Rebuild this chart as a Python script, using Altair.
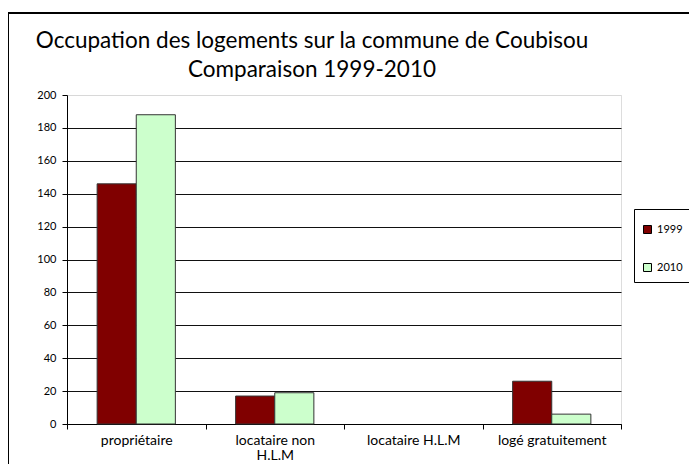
import altair as alt
import pandas as pd

categories = ["propriétaire", "locataire non H.L.M", "locataire H.L.M", "logé gratuitement"]
years = ["1999", "2010"]
values_1999 = [146, 17, 0, 26]
values_2010 = [188, 19, 0, 6]
colors = ["#800000", "#CCFFCC"]
y_ticks = [0, 20, 40, 60, 80, 100, 120, 140, 160, 180, 200]
title_lines = ["Occupation des logements sur la commune de Coubisou", "Comparaison 1999-2010"]

rows = []
for c, a, b in zip(categories, values_1999, values_2010):
    rows.append({"cat": c, "year": "1999", "value": a})
    rows.append({"cat": c, "year": "2010", "value": b})
df = pd.DataFrame(rows)

FONT = "Lato"

bars = alt.Chart(df).mark_bar(stroke="#333333", strokeWidth=1).encode(
    x=alt.X("cat:N", sort=categories, title=None,
            scale=alt.Scale(paddingInner=0, paddingOuter=0),
            axis=alt.Axis(labelAngle=0, tickBand="extent", tickSize=5, tickColor="#000000",
                          domainColor="#000000", labelFontSize=14, labelPadding=4,
                          labelColor="#000000", labelFont=FONT, labelLineHeight=15.5,
                          labelExpr="datum.label == 'locataire non H.L.M' ? ['locataire non', 'H.L.M'] : datum.label")),
    xOffset=alt.XOffset("year:N", scale=alt.Scale(paddingInner=0, paddingOuter=0.77)),
    y=alt.Y("value:Q", title=None,
            scale=alt.Scale(domain=[0, 200], nice=False),
            axis=alt.Axis(values=y_ticks, tickSize=5, tickColor="#000000", domainColor="#000000",
                          gridColor={"condition": {"test": "datum.value === 200", "value": "#D8D8D8"},
                                     "value": "#111111"},
                          gridWidth=1, labelFontSize=11, labelColor="#000000",
                          labelFont=FONT, labelPadding=6)),
    fill=alt.Fill("year:N", scale=alt.Scale(domain=years, range=colors),
                  legend=alt.Legend(title=" ", titleFontSize=5, titlePadding=2,
                                    orient="none", legendX=567, legendY=114,
                                    strokeColor="#000000", fillColor="#ffffff", padding=8,
                                    symbolType="square", symbolSize=64, symbolStrokeColor="#000000",
                                    symbolStrokeWidth=1, labelFontSize=11, labelFont=FONT,
                                    labelOffset=4, rowPadding=25, labelColor="#000000")),
    strokeOpacity=alt.condition("datum.value > 0", alt.value(1), alt.value(0)),
)

frame_top = alt.Chart(df).mark_rule(color="#000000", strokeWidth=2).encode(
    x=alt.value(-59), x2=alt.value(700), y=alt.value(-82))
frame_left = alt.Chart(df).mark_rule(color="#000000", strokeWidth=2).encode(
    x=alt.value(-59), y=alt.value(-82), y2=alt.value(500))

title = alt.Chart(pd.DataFrame({"t": [0]})).mark_text(
    font=FONT, fontSize=22.5, lineHeight=29, align="center", baseline="alphabetic", color="#000000"
).encode(x=alt.value(245), y=alt.value(-47), text=alt.value(title_lines))

chart = alt.layer(frame_top, frame_left, title, bars).properties(
    width=554, height=329,
    autosize=alt.AutoSizeParams(type="none"),
    padding={"left": 59, "top": 87, "right": 68, "bottom": 40},
).configure_view(fill="#C0C0C0", stroke="#909090", strokeWidth=1).configure(background="#ffffff")

chart.save("out.html", embed_options={"renderer": "svg", "actions": False})
